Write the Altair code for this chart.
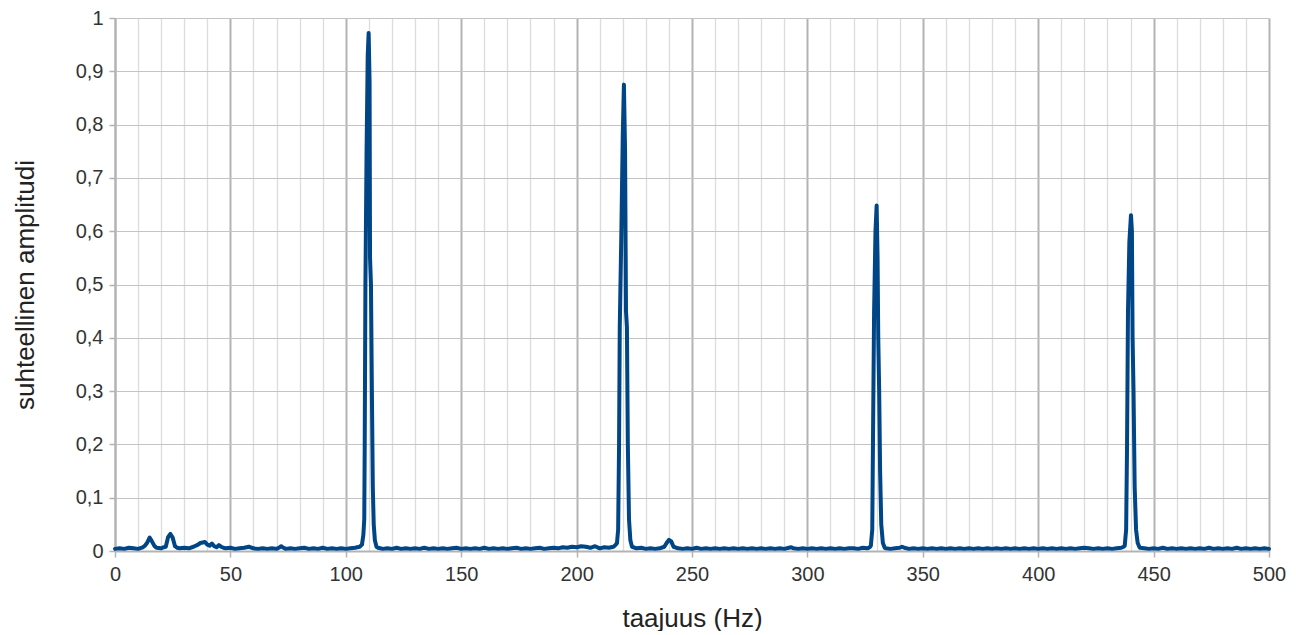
import altair as alt
import pandas as pd

# frequency (Hz) and relative amplitude
freq = [
    0, 2, 4, 6, 8, 10, 12, 13, 14, 15, 16, 17, 18, 20, 21, 22, 23, 24, 25, 26, 27, 28,
    30, 32, 34, 36, 37, 38, 39, 40, 41, 42, 43, 44, 45, 46, 47, 48, 50, 52, 54, 56, 58,
    60, 62, 64, 66, 68, 70, 71, 72, 73, 74, 76, 78, 80, 82, 84, 86, 88, 90, 92, 94, 96,
    98, 100, 102, 104, 105, 106, 107, 107.6, 108.0, 108.2, 108.5, 109.0, 109.5, 109.9,
    110.3, 110.5, 110.9, 111.3, 111.7, 112.1, 112.6, 113.3, 114, 116, 118, 120, 122, 124,
    126, 128, 130, 132, 134, 136, 138, 140, 142, 144, 146, 148, 150, 152, 154, 156, 158,
    160, 162, 164, 166, 168, 170, 172, 174, 176, 178, 180, 182, 184, 186, 188, 190, 192,
    194, 196, 198, 200, 202, 204, 206, 208, 210, 212, 214, 216, 217, 217.5, 218.0, 218.4,
    218.7, 219.4, 220.0, 220.5, 221.0, 221.4, 221.8, 222.2, 222.7, 223.3, 224, 226, 228,
    230, 232, 234, 236, 238, 239, 240, 241, 242, 244, 246, 248, 250, 252, 254, 256, 258,
    260, 262, 264, 266, 268, 270, 272, 274, 276, 278, 280, 282, 284, 286, 288, 290, 292,
    293, 294, 296, 298, 300, 302, 304, 306, 308, 310, 312, 314, 316, 318, 320, 322, 324,
    326, 327, 327.5, 328.1, 328.5, 328.9, 329.5, 330.0, 330.4, 330.7, 331.1, 331.5, 332.0,
    332.7, 333.5, 334, 336, 338, 340, 341, 342, 344, 346, 348, 350, 352, 354, 356, 358,
    360, 362, 364, 366, 368, 370, 372, 374, 376, 378, 380, 382, 384, 386, 388, 390, 392,
    394, 396, 398, 400, 402, 404, 406, 408, 410, 412, 414, 416, 418, 420, 422, 424, 426,
    428, 430, 432, 434, 436, 437, 437.5, 438.1, 438.5, 438.9, 439.5, 440.2, 440.6, 440.9,
    441.3, 441.8, 442.4, 443.1, 444, 446, 448, 450, 452, 454, 456, 458, 460, 462, 464, 466,
    468, 470, 472, 474, 476, 478, 480, 482, 484, 486, 488, 490, 492, 494, 496, 498, 500,
]
amp = [
    0.004, 0.005, 0.004, 0.006, 0.005, 0.004, 0.007, 0.010, 0.016, 0.025, 0.018, 0.010, 0.006, 0.005, 0.007, 0.008, 0.026, 0.032, 0.025, 0.009, 0.006, 0.005,
    0.006, 0.005, 0.008, 0.012, 0.015, 0.016, 0.017, 0.012, 0.010, 0.014, 0.009, 0.007, 0.011, 0.008, 0.006, 0.005, 0.006, 0.004, 0.005, 0.006, 0.008,
    0.005, 0.004, 0.005, 0.004, 0.005, 0.004, 0.006, 0.009, 0.006, 0.004, 0.005, 0.004, 0.005, 0.006, 0.004, 0.005, 0.004, 0.006, 0.004, 0.005, 0.004,
    0.005, 0.004, 0.005, 0.006, 0.007, 0.008, 0.012, 0.030, 0.060, 0.200, 0.500, 0.750, 0.930, 0.972,
    0.880, 0.550, 0.500, 0.300, 0.120, 0.050, 0.020, 0.008, 0.006, 0.004, 0.005, 0.004, 0.006, 0.004,
    0.005, 0.004, 0.005, 0.004, 0.006, 0.004, 0.005, 0.004, 0.005, 0.004, 0.005, 0.006, 0.004, 0.005, 0.004, 0.005, 0.004,
    0.006, 0.004, 0.005, 0.004, 0.005, 0.004, 0.005, 0.006, 0.004, 0.005, 0.004, 0.005, 0.006, 0.004, 0.005, 0.006, 0.005,
    0.007, 0.006, 0.008, 0.007, 0.009, 0.008, 0.006, 0.009, 0.005, 0.007, 0.006, 0.008, 0.012, 0.015, 0.040, 0.200,
    0.420, 0.600, 0.780, 0.875, 0.750, 0.450, 0.420, 0.200, 0.060, 0.020, 0.008, 0.005, 0.006,
    0.004, 0.005, 0.004, 0.005, 0.008, 0.015, 0.021, 0.018, 0.008, 0.005, 0.004, 0.005, 0.004, 0.006, 0.004, 0.005, 0.004,
    0.005, 0.004, 0.005, 0.004, 0.005, 0.004, 0.005, 0.004, 0.005, 0.004, 0.005, 0.004, 0.005, 0.004, 0.005, 0.004, 0.006,
    0.007, 0.005, 0.004, 0.005, 0.004, 0.005, 0.004, 0.005, 0.004, 0.005, 0.004, 0.005, 0.004, 0.005, 0.005, 0.004, 0.006,
    0.005, 0.007, 0.010, 0.040, 0.250, 0.450, 0.600, 0.648, 0.550, 0.400, 0.300, 0.150, 0.050,
    0.015, 0.006, 0.005, 0.004, 0.005, 0.006, 0.008, 0.006, 0.004, 0.005, 0.004, 0.005, 0.004, 0.005, 0.004, 0.005,
    0.004, 0.005, 0.004, 0.005, 0.004, 0.005, 0.004, 0.005, 0.004, 0.005, 0.004, 0.005, 0.004, 0.005, 0.004, 0.005, 0.004,
    0.005, 0.004, 0.005, 0.004, 0.005, 0.004, 0.005, 0.004, 0.005, 0.004, 0.005, 0.004, 0.005, 0.006, 0.005, 0.004, 0.005,
    0.004, 0.005, 0.004, 0.005, 0.006, 0.008, 0.010, 0.040, 0.200, 0.450, 0.580, 0.630, 0.600, 0.400,
    0.300, 0.120, 0.040, 0.015, 0.006, 0.005, 0.004, 0.005, 0.004, 0.006, 0.004, 0.005, 0.004, 0.005, 0.004, 0.005,
    0.004, 0.005, 0.004, 0.006, 0.004, 0.005, 0.004, 0.005, 0.004, 0.006, 0.004, 0.005, 0.004, 0.005, 0.004, 0.005, 0.004,
]

x_ticks = list(range(0, 501, 10))
y_ticks = [0, 0.1, 0.2, 0.3, 0.4, 0.5, 0.6, 0.7, 0.8, 0.9, 1]

df = pd.DataFrame({"f": freq, "a": amp})

major = "datum.value % 50 === 0"

chart = (
    alt.Chart(df)
    .mark_line(color="#004586", strokeWidth=4, strokeJoin="round", strokeCap="round")
    .encode(
        x=alt.X(
            "f:Q",
            scale=alt.Scale(domain=[0, 500], nice=False, zero=False),
            axis=alt.Axis(
                values=x_ticks,
                title="taajuus (Hz)",
                labelExpr=f"{major} ? datum.label : ''",
                labelOverlap=False,
                labelFlush=False,
                gridColor={"condition": {"test": major, "value": "#b3b3b3"}, "value": "#dcdcdc"},
                gridWidth={"condition": {"test": major, "value": 2}, "value": 1.3},
                tickOpacity={"condition": {"test": major, "value": 1}, "value": 0},
                tickSize=6,
                labelPadding=7,
                titlePadding=21,
            ),
        ),
        y=alt.Y(
            "a:Q",
            scale=alt.Scale(domain=[0, 1], nice=False),
            axis=alt.Axis(
                values=y_ticks,
                title="suhteellinen amplitudi",
                labelExpr="replace(format(datum.value, '.1~f'), '.', ',')",
                labelFlush=False,
                gridColor="#c4c4c4",
                gridWidth=1,
                tickSize=6,
                labelPadding=6,
                titlePadding=37,
            ),
        ),
    )
    .properties(width=1154, height=533, padding={"left": 4, "top": 0, "right": 0, "bottom": 0})
    .configure_view(strokeWidth=0)
    .configure_axis(
        labelFont="Liberation Sans",
        labelFontSize=20,
        labelColor="#333333",
        titleFont="Liberation Sans",
        titleFontSize=26,
        titleFontWeight="normal",
        titleColor="#222222",
        domainColor="#b3b3b3",
        domainWidth=2,
        tickColor="#b3b3b3",
        tickWidth=1.5,
    )
)

chart.save("out.html", embed_options={"renderer": "svg", "actions": False})
